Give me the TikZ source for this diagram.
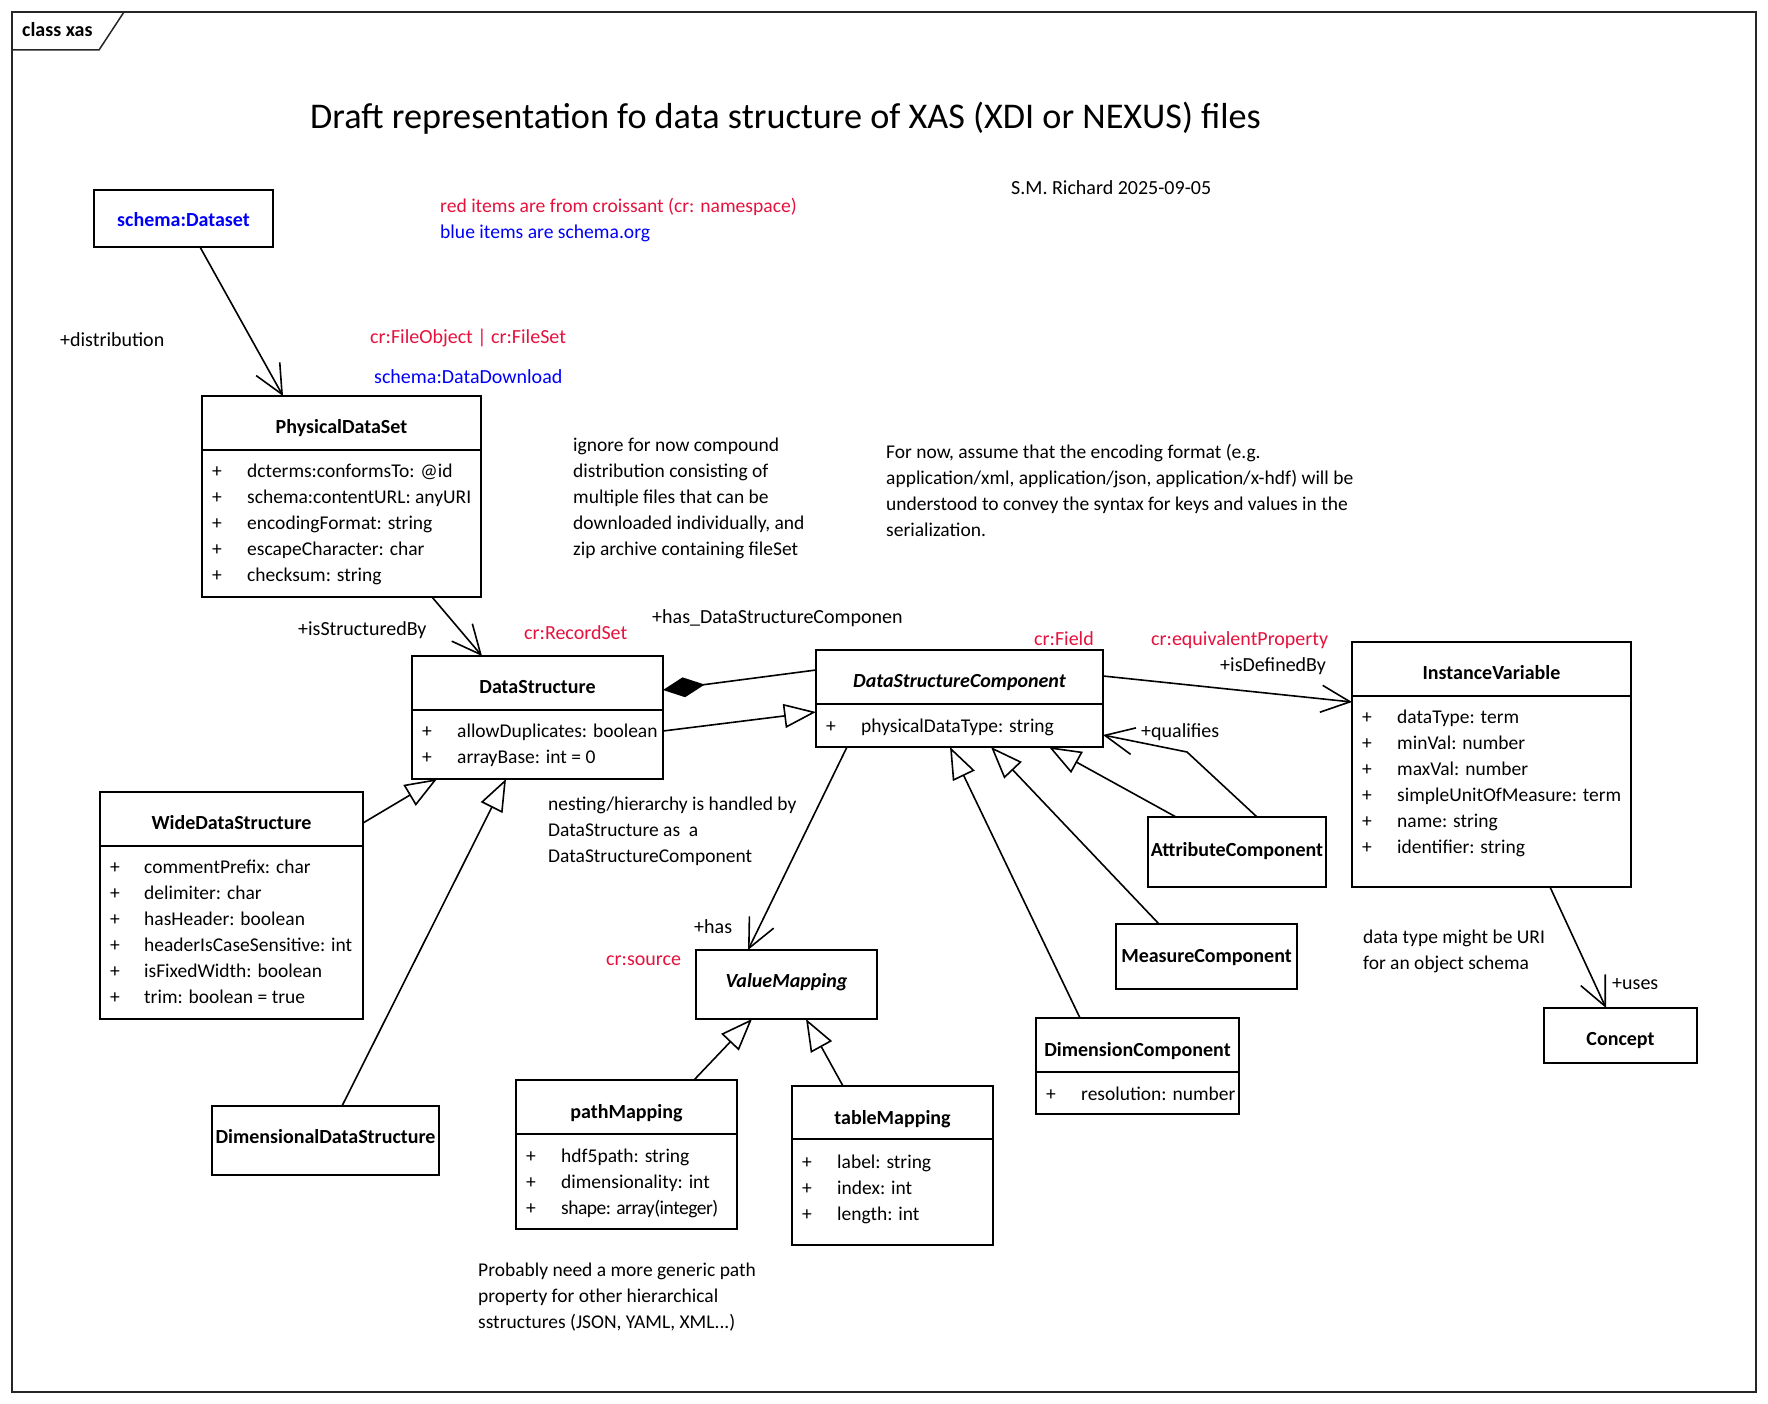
\documentclass[tikz,border=0pt]{standalone}
\usepackage{fontspec}
\setmainfont{Carlito}
\usetikzlibrary{arrows.meta,calc}
\definecolor{crred}{RGB}{230,18,62}
\definecolor{sblue}{RGB}{0,0,250}
\begin{document}
\begin{tikzpicture}[x=1pt,y=-1pt,
 box/.style={draw, line width=2pt, inner sep=0pt, outer sep=0pt, anchor=north west},
 divider/.style={line width=2pt},
 cname/.style={font=\fontsize{20}{24}\selectfont\bfseries, inner sep=0pt, anchor=base},
 cnamei/.style={font=\fontsize{20}{24}\selectfont\bfseries\itshape, inner sep=0pt, anchor=base},
 attrtext/.style={font=\fontsize{19.5}{26}\selectfont, inner sep=0pt, anchor=base west, align=left},
 plustext/.style={font=\fontsize{19.5}{26}\selectfont, inner sep=0pt, anchor=base, align=center},
 notetext/.style={font=\fontsize{19.5}{26}\selectfont, inner sep=0pt, anchor=base west, align=left},
 lbl/.style={font=\fontsize{20}{24}\selectfont, inner sep=0pt, anchor=base west},
 conn/.style={line width=1.6pt},
 assoc/.style={conn, -{Straight Barb[length=29pt,width=27pt]}},
 gen/.style={conn, -{Triangle[open,length=32pt,width=24pt]}},
 comp/.style={conn, {Diamond[length=42pt,width=20pt]}-},
]
\useasboundingbox (0,0) rectangle (1768,1404);
\fill[white] (0,0) rectangle (1768,1404);

% frame
\draw[line width=1.5pt, black!85] (12,12) rectangle (1756,1392);
\draw[line width=1.5pt, black!85] (12,50) -- (99,50) -- (124,12);
\node[font=\fontsize{20}{24}\selectfont\bfseries, inner sep=0pt, anchor=base west] (frameT) at (22,37) {class xas};

% title and notes (multi-line nodes: base = last line)
\node[font=\fontsize{36.2}{40}\selectfont, inner sep=0pt, anchor=base] (title) at (785.5,129) {Draft representation fo data structure of XAS (XDI or NEXUS) files};
\node[lbl] (author) at (1011,195) {S.M. Richard 2025-09-05};
\node[lbl, font=\fontsize{19.6}{24}\selectfont, text=crred] (legR) at (440,213) {red items are from croissant (cr: namespace)};
\node[lbl, font=\fontsize{19.6}{24}\selectfont, text=sblue] (legB) at (440,239) {blue items are schema.org};

\node[notetext] (n1) at (573,555) {ignore for now compound\\distribution consisting of\\multiple files that can be\\downloaded individually, and\\zip archive containing fileSet};
\node[notetext] (n2) at (886,536) {For now, assume that the encoding format (e.g.\\application/xml, application/json, application/x-hdf) will be\\understood to convey the syntax for keys and values in the\\serialization.};
\node[notetext] (n3) at (548,862) {nesting/hierarchy is handled by\\DataStructure as\ \ a\\DataStructureComponent};
\node[notetext] (n4) at (478,1328) {Probably need a more generic path\\property for other hierarchical\\sstructures (JSON, YAML, XML...)};
\node[notetext] (n5) at (1363,969) {data type might be URI\\for an object schema};

% schema:Dataset
\node[box, minimum width=179pt, minimum height=57pt] (sd) at (94,190) {};
\node[cname, text=sblue] (sdT) at (183.5,227) {schema:Dataset};

% PhysicalDataSet
\node[box, minimum width=279pt, minimum height=201pt] (pds) at (202,396) {};
\draw[divider] ([yshift=-54pt]pds.north west) -- ([yshift=-54pt]pds.north east);
\node[cname] (pdsT) at (341.5,433) {PhysicalDataSet};
\node[plustext] (pdsP) at (217,581) {+\\+\\+\\+\\+};
\node[attrtext] (pdsA) at (247,581) {dcterms:conformsTo: @id\\schema:contentURL: anyURI\\encodingFormat: string\\escapeCharacter: char\\checksum: string};

% DataStructure
\node[box, minimum width=251pt, minimum height=123pt] (ds) at (412,656) {};
\draw[divider] ([yshift=-54pt]ds.north west) -- ([yshift=-54pt]ds.north east);
\node[cname] (dsT) at (537.5,693) {DataStructure};
\node[plustext] (dsP) at (427,763) {+\\+};
\node[attrtext] (dsA) at (457,763) {allowDuplicates: boolean\\arrayBase: int = 0};

% DataStructureComponent
\node[box, minimum width=287pt, minimum height=97pt] (dsc) at (816,650) {};
\draw[divider] ([yshift=-54pt]dsc.north west) -- ([yshift=-54pt]dsc.north east);
\node[cnamei] (dscT) at (959.5,687) {DataStructureComponent};
\node[plustext] (dscP) at (831,732) {+};
\node[attrtext] (dscA) at (861,732) {physicalDataType: string};

% InstanceVariable
\node[box, minimum width=279pt, minimum height=245pt] (iv) at (1352,642) {};
\draw[divider] ([yshift=-54pt]iv.north west) -- ([yshift=-54pt]iv.north east);
\node[cname] (ivT) at (1491.5,679) {InstanceVariable};
\node[plustext] (ivP) at (1367,853) {+\\+\\+\\+\\+\\+};
\node[attrtext] (ivA) at (1397,853) {dataType: term\\minVal: number\\maxVal: number\\simpleUnitOfMeasure: term\\name: string\\identifier: string};

% Concept
\node[box, minimum width=153pt, minimum height=55pt] (concept) at (1544,1008) {};
\node[cname] (conceptT) at (1620.5,1045) {Concept};

% AttributeComponent
\node[box, minimum width=178pt, minimum height=70pt] (ac) at (1148,817) {};
\node[cname] (acT) at (1237,856) {AttributeComponent};

% MeasureComponent
\node[box, minimum width=181pt, minimum height=65pt] (mc) at (1116,924) {};
\node[cname] (mcT) at (1206.5,962) {MeasureComponent};

% DimensionComponent
\node[box, minimum width=203pt, minimum height=96pt] (dc) at (1036,1018) {};
\draw[divider] ([yshift=-54pt]dc.north west) -- ([yshift=-54pt]dc.north east);
\node[cname] (dcT) at (1137.5,1056) {DimensionComponent};
\node[plustext] (dcP) at (1051,1100) {+};
\node[attrtext] (dcA) at (1081,1100) {resolution: number};

% ValueMapping
\node[box, minimum width=181pt, minimum height=69pt] (vm) at (696,950) {};
\node[cnamei] (vmT) at (786.5,987) {ValueMapping};

% pathMapping
\node[box, minimum width=221pt, minimum height=149pt] (pm) at (516,1080) {};
\draw[divider] ([yshift=-54pt]pm.north west) -- ([yshift=-54pt]pm.north east);
\node[cname] (pmT) at (626.5,1118) {pathMapping};
\node[plustext] (pmP) at (531,1214) {+\\+\\+};
\node[attrtext] (pmA) at (561,1214) {hdf5path: string\\dimensionality: int\\{\addfontfeatures{LetterSpace=-2.5}shape: array(integer)}};

% tableMapping
\node[box, minimum width=201pt, minimum height=159pt] (tm) at (792,1086) {};
\draw[divider] ([yshift=-53pt]tm.north west) -- ([yshift=-53pt]tm.north east);
\node[cname] (tmT) at (892.5,1124) {tableMapping};
\node[plustext] (tmP) at (807,1220) {+\\+\\+};
\node[attrtext] (tmA) at (837,1220) {label: string\\index: int\\length: int};

% WideDataStructure
\node[box, minimum width=263pt, minimum height=227pt] (wds) at (100,792) {};
\draw[divider] ([yshift=-54pt]wds.north west) -- ([yshift=-54pt]wds.north east);
\node[cname] (wdsT) at (231.5,829) {WideDataStructure};
\node[plustext] (wdsP) at (115,1003) {+\\+\\+\\+\\+\\+};
\node[attrtext] (wdsA) at (144,1003) {commentPrefix: char\\delimiter: char\\hasHeader: boolean\\headerIsCaseSensitive: int\\isFixedWidth: boolean\\trim: boolean = true};

% DimensionalDataStructure
\node[box, minimum width=227pt, minimum height=69pt] (dds) at (212,1106) {};
\node[cname] (ddsT) at (325.5,1143) {DimensionalDataStructure};

% connector labels
\node[lbl] (lDist) at (60,346) {+distribution};
\node[lbl, text=crred] (lFO) at (370,343) {cr:FileObject | cr:FileSet};
\node[lbl, text=sblue] (lDD) at (374,383) {schema:DataDownload};
\node[lbl] (lISB) at (298,635) {+isStructuredBy};
\node[lbl, text=crred] (lRS) at (524,639) {cr:RecordSet};
\node[lbl] (lHas1) at (652,623) {+has\_DataStructureComponen};
\node[lbl, text=crred] (lFld) at (1034,645) {cr:Field};
\node[lbl, text=crred] (lEqP) at (1151,645) {cr:equivalentProperty};
\node[lbl] (lIDB) at (1220,671) {+isDefinedBy};
\node[lbl] (lQual) at (1141,737) {+qualifies};
\node[lbl] (lUses) at (1612,989) {+uses};
\node[lbl] (lHas2) at (694,933) {+has};
\node[lbl, text=crred] (lSrc) at (606,965) {cr:source};

% connectors
\draw[assoc] ([xshift=106pt]sd.south west) -- ([xshift=81pt]pds.north west);
\draw[assoc] ([xshift=230pt]pds.south west) -- ([xshift=70pt]ds.north west);
\draw[comp] ([yshift=-34pt]ds.north east) -- ([yshift=-20pt]dsc.north west);
\draw[gen] ([yshift=-75pt]ds.north east) -- ([yshift=-62pt]dsc.north west);
\draw[assoc] ([yshift=-26pt]dsc.north east) -- ([yshift=-60pt]iv.north west);
\draw[assoc] ([xshift=198pt]iv.south west) -- ([xshift=62pt]concept.north west);
\coordinate (qbend) at (1187,752);
\draw[assoc] ([xshift=109pt]ac.north west) -- (qbend) -- ([yshift=-85pt]dsc.north east);
\draw[gen] ([xshift=28pt]ac.north west) -- ([xshift=233pt]dsc.south west);
\draw[gen] ([xshift=43pt]mc.north west) -- ([xshift=175pt]dsc.south west);
\draw[gen] ([xshift=44pt]dc.north west) -- ([xshift=134pt]dsc.south west);
\draw[assoc] ([xshift=31pt]dsc.south west) -- ([xshift=52pt]vm.north west);
\draw[gen] ([xshift=178pt]pm.north west) -- ([xshift=56pt]vm.south west);
\draw[gen] ([xshift=51pt]tm.north west) -- ([xshift=110pt]vm.south west);
\draw[gen] ([yshift=-31pt]wds.north east) -- ([xshift=25pt]ds.south west);
\draw[gen] ([xshift=130pt]dds.north west) -- ([xshift=94pt]ds.south west);
\end{tikzpicture}
\end{document}
